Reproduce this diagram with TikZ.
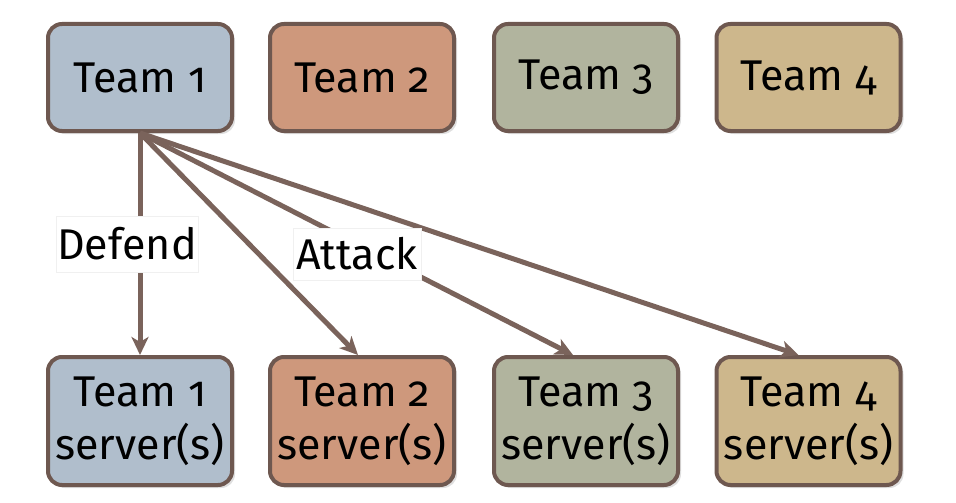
\documentclass[tikz,border=0pt]{standalone}
\usepackage{fontspec}
\setmainfont[Numbers=OldStyle]{Fira Sans}
\usetikzlibrary{arrows.meta,shadows}
\definecolor{bordc}{HTML}{6E5850}
\definecolor{arrc}{HTML}{7A635B}
\definecolor{cone}{HTML}{B0BECC}
\definecolor{ctwo}{HTML}{CE987C}
\definecolor{cthree}{HTML}{B1B49E}
\definecolor{cfour}{HTML}{CDB78C}
\tikzset{
  teambox/.style={draw=bordc, line width=4pt, rounded corners=14pt,
    minimum width=184pt, inner sep=0pt, align=center,
    font=\fontsize{43}{53}\selectfont,
    drop shadow={opacity=0.25, shadow xshift=3pt, shadow yshift=-3pt}},
  topbox/.style={teambox, minimum height=107pt},
  botbox/.style={teambox, minimum height=128pt},
  conn/.style={draw=arrc, line width=5pt, -{Stealth[length=18pt,width=17pt,inset=5pt]}},
  lbl/.style={fill=white, draw=gray!12, line width=0.8pt, inner sep=0pt,
    font=\fontsize{43}{50}\selectfont}
}
\begin{document}
\begin{tikzpicture}[x=1pt,y=-1pt]
\useasboundingbox (0,0) rectangle (956,503);
\node[topbox, fill=cone]   (t1) at (140,77.5)   {Team 1};
\node[topbox, fill=ctwo]   (t2) at (362,77.5)   {Team 2};
\node[topbox, fill=cthree] (t3) at (586,77.5)   {Team 3};
\node[topbox, fill=cfour]  (t4) at (808.5,77.5) {Team 4};
\node[botbox, fill=cone]   (s1) at (140,421)   {Team 1\\server(s)};
\node[botbox, fill=ctwo]   (s2) at (362,421)   {Team 2\\server(s)};
\node[botbox, fill=cthree] (s3) at (586,421)   {Team 3\\server(s)};
\node[botbox, fill=cfour]  (s4) at (808.5,421) {Team 4\\server(s)};
\draw[conn] (t1.south) -- (s1.north);
\draw[conn] (t1.south) -- ([xshift=-4pt]s2.north);
\draw[conn] (t1.south) -- ([xshift=-13pt]s3.north);
\draw[conn] (t1.south) -- ([xshift=-10pt]s4.north);
\node[lbl, minimum width=142pt, minimum height=56pt] (defend) at (127,244) {Defend};
\node[lbl, minimum width=128pt, minimum height=52pt] (attack) at (357,254) {Attack};
\end{tikzpicture}
\end{document}
